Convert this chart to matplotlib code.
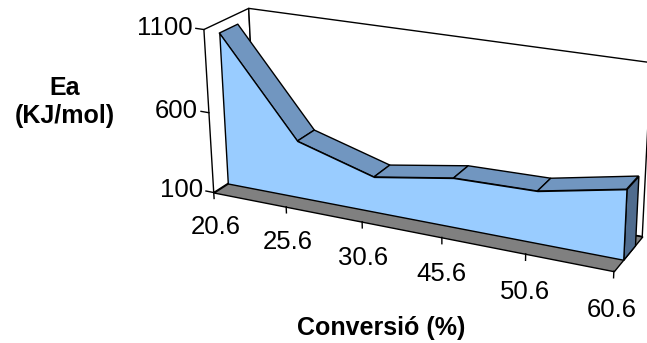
import numpy as np
import matplotlib
matplotlib.use('Agg')
import matplotlib.pyplot as plt
from mpl_toolkits.mplot3d import proj3d
from mpl_toolkits.mplot3d.art3d import Poly3DCollection

plt.rcParams['font.family'] = 'Liberation Sans'

# data
categories = ['20.6', '25.6', '30.6', '45.6', '50.6', '60.6']
ea_values = [1037, 452, 315, 395, 406, 505]
y_ticks = [100, 600, 1100]

# Excel style 3D area: series sits between these depths of the box
front_depth = 0.32
back_depth = 0.735

blue_front = '#99ccff'
blue_top = '#7196c0'
blue_side = '#506c8e'
floor_grey = '#808080'

fig = plt.figure(figsize=(6.47, 3.43), dpi=100)
# 600x600 px square axes, shifted so the box lands where the original has it
ax = fig.add_axes([111.5 / 647, -96.5 / 343, 600 / 647, 600 / 343], projection='3d')
ax.set_xlim(0, len(categories) - 1)
ax.set_ylim(0, 1)
ax.set_zlim(y_ticks[0], y_ticks[-1])
ax.view_init(elev=20.72, azim=-63.96, roll=0.41)
ax.set_proj_type('persp', focal_length=0.4595)
ax.set_box_aspect((1, 0.1922, 0.4047), zoom=0.7878)
ax.set_axis_off()
ax.computed_zorder = False

x = np.arange(len(categories))
lo, hi = y_ticks[0], y_ticks[-1]
xe = x[-1]

# walls and floor
left_wall = [(0, 0, lo), (0, 1, lo), (0, 1, hi), (0, 0, hi)]
back_wall = [(0, 1, lo), (xe, 1, lo), (xe, 1, hi), (0, 1, hi)]
floor = [(0, 0, lo), (xe, 0, lo), (xe, 1, lo), (0, 1, lo)]
ax.add_collection3d(Poly3DCollection([left_wall, back_wall], facecolor='white',
                                     edgecolor='black', linewidth=1.0))
ax.add_collection3d(Poly3DCollection([floor], facecolor=floor_grey,
                                     edgecolor='black', linewidth=1.0))

# area: top strips, right end, front face
fd, bd = front_depth, back_depth
tops = []
for i in range(len(x) - 1):
    tops.append([(x[i], fd, ea_values[i]), (x[i + 1], fd, ea_values[i + 1]),
                 (x[i + 1], bd, ea_values[i + 1]), (x[i], bd, ea_values[i])])
ax.add_collection3d(Poly3DCollection(tops, facecolor=blue_top,
                                     edgecolor='black', linewidth=1.0))
side = [(xe, fd, lo), (xe, fd, ea_values[-1]), (xe, bd, ea_values[-1]), (xe, bd, lo)]
ax.add_collection3d(Poly3DCollection([side], facecolor=blue_side,
                                     edgecolor='black', linewidth=1.0))
front = [(xi, fd, v) for xi, v in zip(x, ea_values)] + [(xe, fd, lo), (0, fd, lo)]
ax.add_collection3d(Poly3DCollection([front], facecolor=blue_front,
                                     edgecolor='black', linewidth=1.0))

# tick labels go in as flat text at the projected 3D spot
M = ax.get_proj()


def label(s, x3, y3, z3, **kw):
    u, v, _ = proj3d.proj_transform(x3, y3, z3, M)
    ax.annotate(s, (u, v), xycoords='data', annotation_clip=False,
                fontsize=18.5, **kw)


# value axis ticks
for t in y_ticks:
    ax.plot([-0.11, 0], [0, 0], [t, t], color='black', lw=1.0)
    label(str(t), -0.15, 0, t, ha='right', va='center')

# category ticks
for xi, lab in zip(x, categories):
    ax.plot([xi, xi], [0, 0], [lo, lo - 38], color='black', lw=1.0)
    label(lab, xi, 0, lo - 225, ha='center', va='center')

fig.text(65 / 647, 1 - 102 / 343, 'Ea\n(KJ/mol)', ha='center', va='center',
         fontsize=18, fontweight='bold', linespacing=1.2)
fig.text(381 / 647, 1 - 328 / 343, 'Conversió (%)', ha='center', va='center',
         fontsize=18, fontweight='bold')

fig.savefig('out.png', dpi=100, facecolor='white')
